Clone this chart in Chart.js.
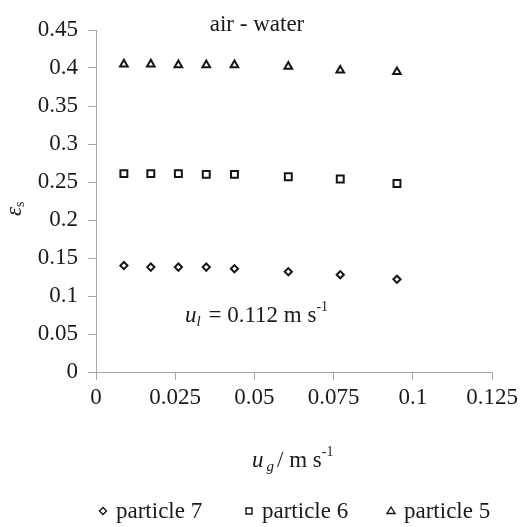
<!DOCTYPE html>
<html>
<head>
<meta charset="utf-8">
<script src="https://cdn.jsdelivr.net/npm/chart.js@4.4.1/dist/chart.umd.min.js"></script>
<style>
    html, body { margin: 0; padding: 0; background: #fff; }
    #conteiner { width: 526px; height: 527px; }
</style>
</head>
<body>
<div id="conteiner"><canvas id="grafico"></canvas></div>
<script>
// Dados
const ugValues = [0.0088, 0.0173, 0.0260, 0.0348, 0.0437, 0.0607, 0.0771, 0.0950];
const particle7 = [0.140, 0.138, 0.138, 0.138, 0.136, 0.132, 0.128, 0.122];
const particle6 = [0.261, 0.261, 0.261, 0.260, 0.260, 0.257, 0.254, 0.248];
const particle5 = [0.405, 0.405, 0.404, 0.404, 0.404, 0.402, 0.397, 0.395];
const seriesLabels = ['particle 7', 'particle 6', 'particle 5'];
const xTickLabels = ['0', '0.025', '0.05', '0.075', '0.1', '0.125'];
const yTickLabels = ['0', '0.05', '0.1', '0.15', '0.2', '0.25', '0.3', '0.35', '0.4', '0.45'];

const SERIF = "'Liberation Serif', 'Times New Roman', serif";
const TEXT = '#1a1a1a';
const AXIS = '#a6a6a6';
const MARK = '#151515';

// Pares (x, y) para o gráfico de dispersão
function pares(valores) {
    return ugValues.map((u, i) => ({ x: u, y: valores[i] }));
}

// Escreve um texto com índices (sub/sobrescritos) em sequência
function escreve(ctx, x, y, partes) {
    for (const p of partes) {
        ctx.font = (p.italic ? 'italic ' : '') + p.size + 'px ' + SERIF;
        ctx.fillText(p.t, x, y + (p.dy || 0));
        x += ctx.measureText(p.t).width + (p.gap || 0);
    }
}

function marcador(ctx, estilo, x, y) {
    ctx.beginPath();
    if (estilo === 'rectRot') {
        ctx.moveTo(x - 3.5, y); ctx.lineTo(x, y - 3.5); ctx.lineTo(x + 3.5, y); ctx.lineTo(x, y + 3.5);
    } else if (estilo === 'rect') {
        ctx.rect(x - 3, y - 3, 6, 6);
    } else {
        ctx.moveTo(x, y - 4); ctx.lineTo(x + 4, y + 2.5); ctx.lineTo(x - 4, y + 2.5);
    }
    ctx.closePath();
    ctx.stroke();
}

const textos = {
    id: 'textos',
    afterDraw(chart) {
        const ctx = chart.ctx;
        const area = chart.chartArea;
        ctx.save();
        ctx.fillStyle = TEXT;
        ctx.textBaseline = 'alphabetic';
        ctx.textAlign = 'left';

        // Título interno
        ctx.font = '23px ' + SERIF;
        ctx.textAlign = 'center';
        ctx.fillText('air - water', area.left + 161, 31);
        ctx.textAlign = 'left';

        // Anotação u_l
        escreve(ctx, area.left + 89, 322, [
            { t: 'u', size: 23, italic: true },
            { t: 'l', size: 15, italic: true, dy: 4, gap: 2 },
            { t: ' = 0.112 m s', size: 23 },
            { t: '-1', size: 14, dy: -11 }
        ]);

        // Título do eixo x
        escreve(ctx, area.left + 156, 467, [
            { t: 'u', size: 23, italic: true, gap: 3 },
            { t: 'g', size: 15, italic: true, dy: 4, gap: 3 },
            { t: '/ m s', size: 23 },
            { t: '-1', size: 14, dy: -11 }
        ]);

        // Título do eixo y (rotacionado)
        ctx.save();
        ctx.translate(21, 216);
        ctx.rotate(-Math.PI / 2);
        escreve(ctx, 0, 0, [
            { t: 'ε', size: 23, italic: true },
            { t: 's', size: 14, dy: 3 }
        ]);
        ctx.restore();

        // Legenda
        const posicoes = [103, 249, 391];
        ctx.font = '23px ' + SERIF;
        ctx.strokeStyle = MARK;
        ctx.lineWidth = 1.4;
        chart.data.datasets.forEach((ds, i) => {
            marcador(ctx, ds.pointStyle, posicoes[i], 511);
            ctx.fillText(ds.label, posicoes[i] + 13, 518);
        });
        ctx.restore();
    }
};

function conjunto(rotulo, valores, estilo, raio) {
    return {
        label: rotulo,
        data: pares(valores),
        pointStyle: estilo,
        pointRadius: raio,
        pointHoverRadius: raio,
        borderColor: MARK,
        backgroundColor: 'rgba(0,0,0,0)',
        borderWidth: 2,
        showLine: false
    };
}

const chartConfig = {
    type: 'scatter',
    data: {
        datasets: [
            conjunto(seriesLabels[0], particle7, 'rectRot', 3.6),
            conjunto(seriesLabels[1], particle6, 'rect', 4.9),
            conjunto(seriesLabels[2], particle5, 'triangle', 4.4)
        ]
    },
    options: {
        responsive: true,
        maintainAspectRatio: false,
        animation: false,
        layout: { padding: { top: 30, right: 34, left: 0, bottom: 0 } },
        plugins: {
            legend: { display: false },
            tooltip: { enabled: false }
        },
        scales: {
            x: {
                type: 'linear',
                min: 0,
                max: 0.125,
                afterBuildTicks: s => { s.ticks = xTickLabels.map(t => ({ value: Number(t) })); },
                afterFit: s => { s.height = 155; },
                grid: { drawOnChartArea: false, drawTicks: true, tickLength: 8, color: AXIS, lineWidth: 1 },
                border: { color: AXIS, width: 1 },
                ticks: {
                    padding: 4,
                    color: TEXT,
                    maxRotation: 0,
                    font: { family: SERIF, size: 23 },
                    callback: v => xTickLabels.find(t => Math.abs(Number(t) - v) < 1e-9) ?? ''
                }
            },
            y: {
                type: 'linear',
                min: 0,
                max: 0.45,
                afterBuildTicks: s => { s.ticks = yTickLabels.map(t => ({ value: Number(t) })); },
                afterFit: s => { s.width = 96; },
                grid: { drawOnChartArea: false, drawTicks: true, tickLength: 8, color: AXIS, lineWidth: 1 },
                border: { color: AXIS, width: 1 },
                ticks: {
                    padding: 10,
                    color: TEXT,
                    font: { family: SERIF, size: 23 },
                    callback: v => yTickLabels.find(t => Math.abs(Number(t) - v) < 1e-9) ?? ''
                }
            }
        }
    },
    plugins: [textos]
};

const grafico = new Chart(document.getElementById('grafico'), chartConfig);
</script>
</body>
</html>
